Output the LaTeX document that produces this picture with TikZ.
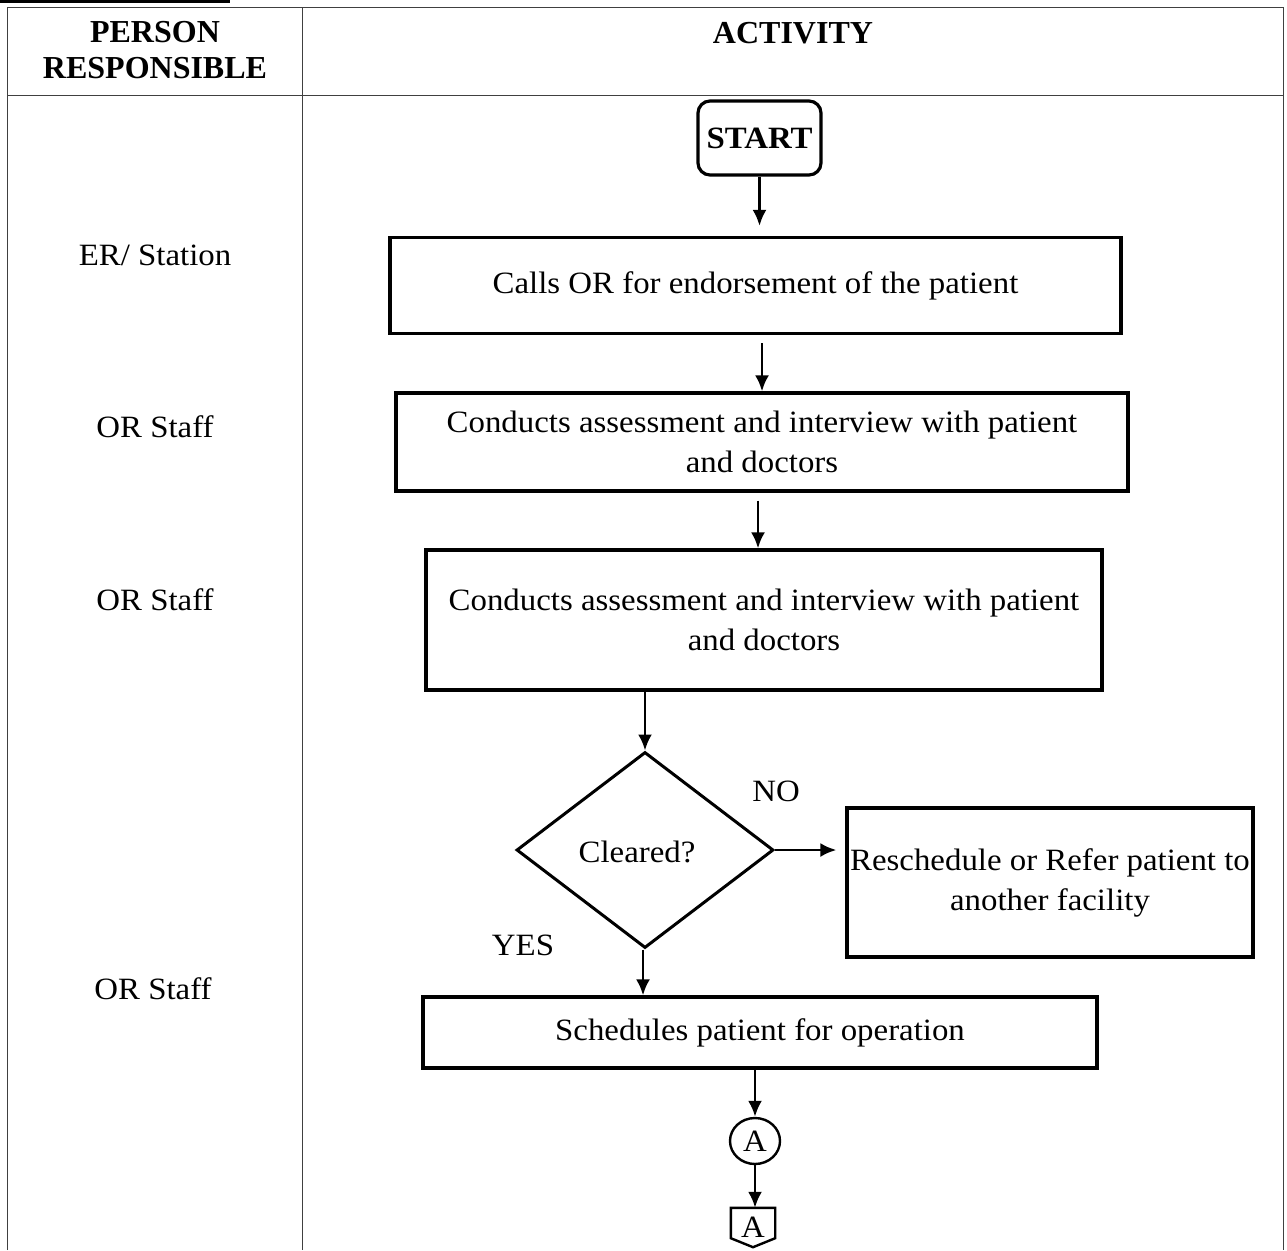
\documentclass[tikz,border=0pt]{standalone}
\usepackage{fontspec}
\setmainfont[FakeStretch=1.06]{Liberation Serif}
\newfontfamily\hdrfont{Liberation Serif}
\usetikzlibrary{arrows.meta,shapes.geometric}
\begin{document}
\begin{tikzpicture}[x=1pt,y=-1pt,
  box/.style={draw,line width=3.2pt,inner sep=0pt,align=center,font=\fontsize{31}{40}\selectfont},
  lbl/.style={font=\fontsize{31}{36}\selectfont,inner sep=0pt},
  hdr/.style={font=\hdrfont\fontsize{32}{36}\selectfont\bfseries,align=center,inner sep=0pt},
  arr/.style={-{Latex[length=16pt,width=14pt]},line width=2.8pt},
  gridline/.style={line width=1pt,draw=black!75}]
\useasboundingbox (0,0) rectangle (1287,1250);
% table
\draw[line width=3pt] (0,1.5) -- (230,1.5);
\draw[gridline] (7,1250) -- (7,7) -- (1283,7) -- (1283,1250);
\draw[gridline] (7,95) -- (1283,95);
\draw[gridline] (302,7) -- (302,1250);
\node[hdr] (h1) at (155,50) {PERSON\\RESPONSIBLE};
\node[hdr] (h2) at (793,33) {ACTIVITY};
% left labels
\node[lbl] (p1) at (155,255) {ER/ Station};
\node[lbl] (p2) at (155,427) {OR Staff};
\node[lbl] (p3) at (155,600) {OR Staff};
\node[lbl] (p4) at (153,989) {OR Staff};
% flow
\node[box,rounded corners=12pt,minimum width=123pt,minimum height=74pt,font=\fontsize{31}{36}\selectfont\bfseries] (start) at (759.5,138) {START};
\node[box,minimum width=731pt,minimum height=96pt] (b1) at (755.5,285.5) {Calls OR for endorsement of the patient};
\node[box,minimum width=732pt,minimum height=98pt] (b2) at (762,442) {Conducts assessment and interview with patient\\and doctors};
\node[box,minimum width=676pt,minimum height=140pt] (b3) at (764,620) {Conducts assessment and interview with patient\\and doctors};
\node[draw,diamond,line width=3pt,minimum width=257pt,minimum height=196pt,inner sep=0pt] (d) at (645,850) {};
\node[lbl] (dl) at (637,852) {Cleared?};
\node[box,minimum width=406pt,minimum height=149pt] (b4) at (1050,882.5) {Reschedule or Refer patient to\\another facility};
\node[box,minimum width=674pt,minimum height=71pt] (b5) at (760,1032.5) {Schedules patient for operation};
\node[draw,ellipse,line width=2.4pt,minimum width=50pt,minimum height=46pt,inner sep=0pt,font=\fontsize{31}{36}\selectfont] (ca) at (755,1141) {A};
\node[inner sep=0pt,minimum width=44pt,minimum height=39pt,font=\fontsize{31}{36}\selectfont] (oa) at (753,1227.5) {A};
\draw[line width=2.4pt] (oa.north west) -- (oa.north east) -- ([yshift=9pt]oa.south east) -- (oa.south) -- ([yshift=9pt]oa.south west) -- cycle;
\node[lbl] (no) at (776,791) {NO};
\node[lbl] (yes) at (523,945) {YES};
% connectors
\draw[arr] (start.south) -- ([yshift=10pt]start.south |- b1.north);
\draw[arr] ([xshift=6.5pt,yshift=-8pt]b1.south) -- ([xshift=6.5pt]b1.south |- b2.north);
\draw[arr] ([xshift=-4pt,yshift=-8pt]b2.south) -- ([xshift=-4pt]b2.south |- b3.north);
\draw[arr] (d.north |- b3.south) -- (d.north);
\draw[arr] (d.east) -- ([xshift=-9pt]b4.west |- d.east);
\draw[arr] ([xshift=-2pt]d.south) -- ([xshift=-2pt]d.south |- b5.north);
\draw[arr] (b5.south -| ca.north) -- (ca.north);
\draw[arr] (ca.south) -- (ca.south |- oa.north);
\end{tikzpicture}
\end{document}
